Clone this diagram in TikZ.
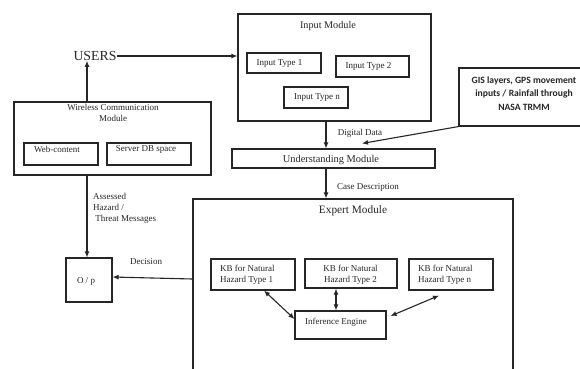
\documentclass[tikz,border=0pt]{standalone}
\usepackage{fontspec}
\setmainfont{Liberation Serif}
\newfontfamily\gisfont{Carlito}
\usetikzlibrary{arrows.meta}
\definecolor{ink}{HTML}{262626}
\tikzset{
  box/.style={draw=ink, line width=1.1pt, inner sep=0pt, anchor=center},
  txt/.style={text=ink, inner sep=0pt, font=\fontsize{9}{11}\selectfont},
  arr/.style={draw=ink, line width=1.1pt, -{Latex[length=6pt,width=5pt]}},
  darr/.style={draw=ink, line width=1.1pt, {Latex[length=6pt,width=5pt]}-{Latex[length=6pt,width=5pt]}}
}
\begin{document}
\begin{tikzpicture}[x=1pt,y=-1pt]
\useasboundingbox (0,0) rectangle (580,368);
\clip (0,0) rectangle (580,368);
\fill[white] (0,0) rectangle (580,368);
% boxes
\node[box, minimum width=193pt, minimum height=107pt] (inmod) at (334.5,67.5) {};
\node[box, minimum width=74pt, minimum height=20pt] (it1) at (284,63) {};
\node[box, minimum width=73pt, minimum height=21pt] (it2) at (372.5,66.5) {};
\node[box, minimum width=64pt, minimum height=21pt] (itn) at (316,97.5) {};
\node[box, minimum width=130pt, minimum height=58pt] (gis) at (524,97) {};
\node[box, minimum width=203pt, minimum height=19pt] (und) at (333.5,158.5) {};
\node[box, minimum width=320pt, minimum height=181pt] (exp) at (353,289.5) {};
\node[box, minimum width=84pt, minimum height=31pt] (kb1) at (253,274.5) {};
\node[box, minimum width=92pt, minimum height=29pt] (kb2) at (351,273.5) {};
\node[box, minimum width=84pt, minimum height=31pt] (kbn) at (451,274.5) {};
\node[box, minimum width=91pt, minimum height=28pt] (ie) at (340.5,325) {};
\node[box, minimum width=197pt, minimum height=73pt] (wcm) at (112.5,138.5) {};
\node[box, minimum width=74pt, minimum height=22pt] (web) at (61,154) {};
\node[box, minimum width=84pt, minimum height=22pt] (sdb) at (149,154) {};
\node[box, minimum width=46pt, minimum height=44pt] (op) at (89,280) {};
% texts
\node[txt, font=\fontsize{13.8}{16}\selectfont] (users) at (95,56) {USERS};
\node[txt, font=\fontsize{10.2}{12}\selectfont] (tinmod) at (328,26) {Input Module};
\node[txt] (tit1) at (279.5,63) {Input Type 1};
\node[txt] (tit2) at (368.5,66.5) {Input Type 2};
\node[txt] (titn) at (317,98) {Input Type n};
\node[txt, font=\gisfont\bfseries\fontsize{9.6}{13.5}\selectfont, align=center] (tgis) at (524,93.5) {GIS layers, GPS movement\\inputs / Rainfall through\\NASA TRMM};
\node[txt, font=\fontsize{10.4}{12}\selectfont] (tund) at (331,160) {Understanding Module};
\node[txt] (tdig) at (360,133) {Digital Data};
\node[txt] (tcase) at (368,187) {Case Description};
\node[txt, font=\fontsize{11.3}{13}\selectfont] (texp) at (353,211) {Expert Module};
\node[txt, align=left, anchor=west] (tkb1) at (220,274.5) {KB for Natural\\Hazard Type 1};
\node[txt, align=center] (tkb2) at (350.5,274.5) {KB for Natural\\Hazard Type 2};
\node[txt, align=left, anchor=west] (tkbn) at (418,274.5) {KB for Natural\\Hazard Type n};
\node[txt] (tie) at (336,322) {Inference Engine};
\node[txt, align=center] (twcm) at (113,112.5) {Wireless Communication\\Module};
\node[txt] (tweb) at (57,149) {Web-content};
\node[txt] (tsdb) at (146,149) {Server DB space};
\node[txt, align=left, anchor=west] (tass) at (93,208) {Assessed\\Hazard /\\\ Threat Messages};
\node[txt] (tdec) at (146,262) {Decision};
\node[txt] (top) at (86,281) {O / p};
% connectors
\draw[arr] (users.east) -- (users.east -| inmod.west);
\draw[arr] ([xshift=-25.5pt]wcm.north) -- ([xshift=-25.5pt]wcm.north |- users.south);
\draw[arr] ([xshift=-25.5pt]wcm.south) -- ([xshift=-25.5pt]wcm.south |- op.north);
\draw[arr] ([yshift=10.5pt]exp.west) -- ([yshift=3pt]op.east);
\draw[arr] ([xshift=-8.5pt]inmod.south) -- ([xshift=-8.5pt]inmod.south |- und.north);
\draw[arr] ([xshift=-7.5pt]und.south) -- ([xshift=-7.5pt]und.south |- exp.north);
\draw[arr] (gis.south west) -- ([xshift=28.5pt,yshift=5pt]und.north);
\draw[darr] ([xshift=11pt]kb1.south) -- ([yshift=6pt]ie.west);
\draw[darr] ([xshift=-15pt]kb2.south) -- ([xshift=-15pt]kb2.south |- ie.north);
\draw[darr] ([xshift=-12pt,yshift=-5pt]kbn.south) -- ([xshift=4pt,yshift=9pt]ie.east);
\end{tikzpicture}
\end{document}
